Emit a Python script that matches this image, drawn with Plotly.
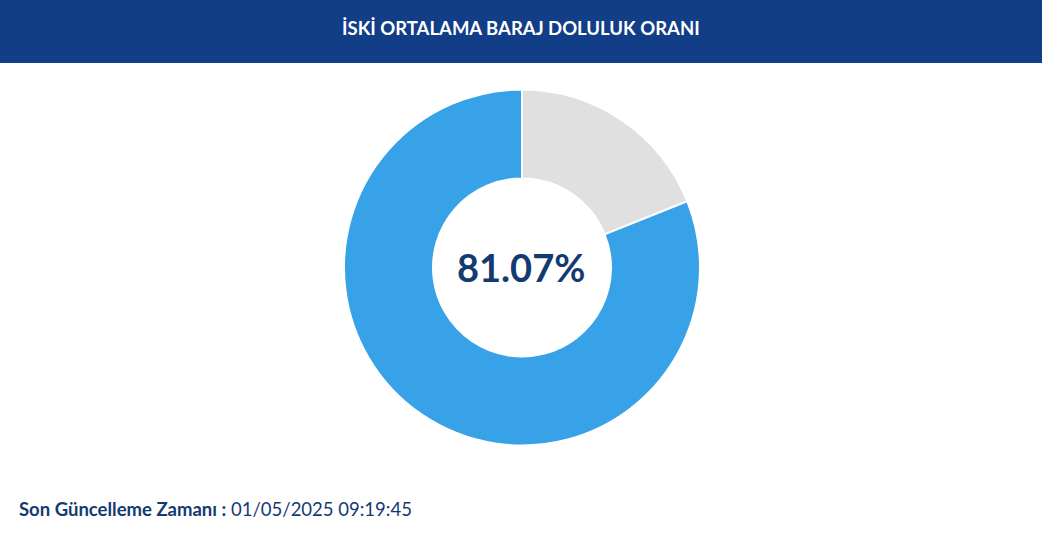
import plotly.graph_objects as go

# Dam fill data
labels = ["Boş", "Dolu"]
values = [18.93, 81.07]
slice_colors = ["#e0e0e0", "#38a2e8"]

title_text = "İSKİ ORTALAMA BARAJ DOLULUK ORANI"
center_text = "81.07%"
updated_label = "Son Güncelleme Zamanı"
updated_time = "01/05/2025 09:19:45"

W, H = 1042, 538
NAVY = "#143a72"

fig = go.Figure(data=[go.Pie(
    labels=labels,
    values=values,
    hole=0.5,
    sort=False,
    direction="clockwise",
    rotation=0,
    marker=dict(colors=slice_colors, line=dict(color="white", width=2)),
    textinfo="none",
    hoverinfo="label+percent",
    domain=dict(x=[344 / W, 700 / W], y=[1 - 446 / H, 1 - 89 / H]),
    showlegend=False,
)])

fig.update_layout(
    width=W,
    height=H,
    margin=dict(l=0, r=0, t=0, b=0),
    paper_bgcolor="white",
    plot_bgcolor="white",
    font=dict(family="Lato, 'Open Sans', sans-serif", color=NAVY),
    shapes=[dict(
        type="rect", xref="paper", yref="paper",
        x0=0, x1=1, y0=1 - 63 / H, y1=1,
        fillcolor="#123d87", line=dict(width=0), layer="below",
    )],
    annotations=[
        dict(text=f"<b>{title_text}</b>", xref="paper", yref="paper",
             x=0.5, y=1 - 28 / H, yanchor="middle", showarrow=False,
             font=dict(size=18.5, color="white")),
        dict(text=f"<b>{center_text}</b>", xref="paper", yref="paper",
             x=521 / W, y=1 - 267 / H, yanchor="middle", showarrow=False,
             font=dict(size=38, color=NAVY)),
        dict(text=f"<b>{updated_label} :</b> {updated_time}", xref="paper", yref="paper",
             x=17 / W, y=1 - 509 / H, xanchor="left", yanchor="middle", showarrow=False,
             font=dict(size=18.5, color=NAVY)),
    ],
)

# drop the page's default body margin so the figure sits at the window corner
fig.write_html("out.html", config={"displayModeBar": False},
               post_script="document.body.style.margin='0';")
